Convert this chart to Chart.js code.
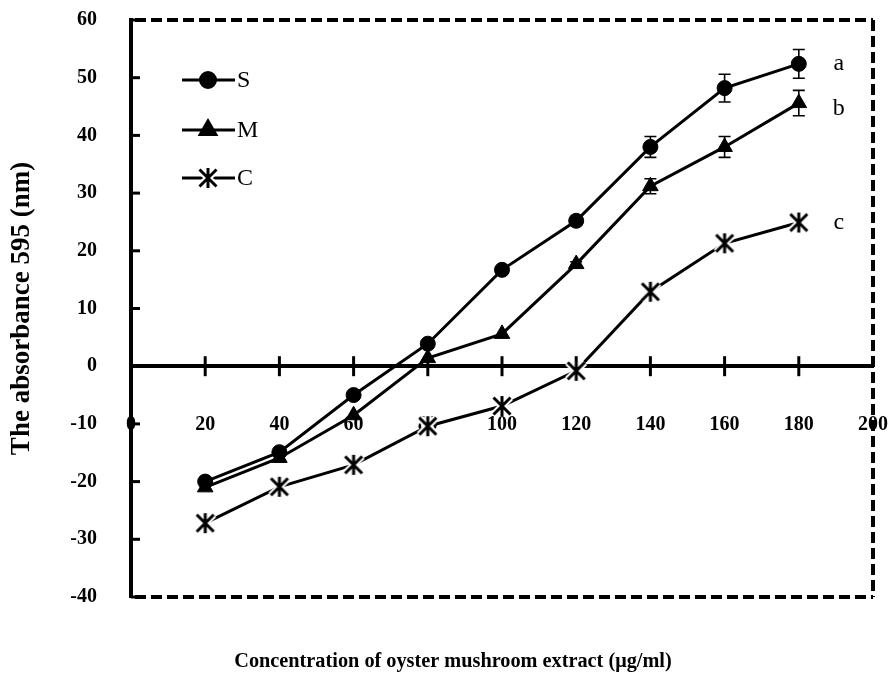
<!DOCTYPE html>
<html>
<head>
<meta charset="utf-8">
<script src="https://cdn.jsdelivr.net/npm/chart.js@4.4.1/dist/chart.umd.min.js"></script>
<style>
  html, body { margin: 0; padding: 0; background: #fff; }
  #c { display: block; }
</style>
</head>
<body>
<canvas id="c" width="888" height="675"></canvas>
<script>
// Absorbance at 595 nm against extract concentration for three groups
const concentrations = [20, 40, 60, 80, 100, 120, 140, 160, 180];
const seriesS = [-20.0, -14.9, -5.0, 3.9, 16.7, 25.2, 38.0, 48.2, 52.4];
const seriesM = [-21.0, -15.9, -8.5, 1.4, 5.6, 17.7, 31.2, 38.0, 45.6];
const seriesC = [-27.2, -20.9, -17.1, -10.4, -6.9, -0.8, 12.9, 21.3, 24.9];
const errorS = [0, 0, 0, 0, 0, 0.8, 1.8, 2.4, 2.5];
const errorM = [0, 0, 0, 0, 0, 0.4, 1.3, 1.8, 2.2];
const seriesNames = ['S', 'M', 'C'];
const groupLetters = ['a', 'b', 'c'];
const xTickValues = [0, 20, 40, 60, 80, 100, 120, 140, 160, 180, 200];
const yTickValues = [-40, -30, -20, -10, 0, 10, 20, 30, 40, 50, 60];
const xTitle = 'Concentration of oyster mushroom extract (μg/ml)';
const yTitle = 'The absorbance 595 (nm)';

const SERIF = '"Liberation Serif", "Times New Roman", Times, serif';

// Six-armed asterisk marker (an X with a vertical stroke), white halo underneath
function makeAsterisk() {
  const size = 28;
  const cv = document.createElement('canvas');
  cv.width = size; cv.height = size;
  const g = cv.getContext('2d');
  const h = size / 2, d = 8.5, v = 10;
  const path = () => {
    g.beginPath();
    g.moveTo(h - d, h - d); g.lineTo(h + d, h + d);
    g.moveTo(h + d, h - d); g.lineTo(h - d, h + d);
    g.moveTo(h, h - v); g.lineTo(h, h + v);
  };
  g.lineCap = 'butt';
  path(); g.strokeStyle = '#fff'; g.lineWidth = 7; g.stroke();
  path(); g.strokeStyle = '#000'; g.lineWidth = 3; g.stroke();
  return cv;
}
const asterisk = makeAsterisk();

const toPoints = ys => concentrations.map((x, i) => ({ x, y: ys[i] }));

const markerStyles = ['circle', 'triangle', asterisk];
const markerRadius = [7.5, 9, 10];
const seriesValues = [seriesS, seriesM, seriesC];
const seriesErrors = [errorS, errorM, null];

function drawMarker(ctx, i, x, y) {
  ctx.fillStyle = '#000';
  ctx.strokeStyle = '#000';
  Chart.helpers.drawPoint(ctx, { pointStyle: markerStyles[i], radius: markerRadius[i], borderWidth: 1, rotation: 0 }, x, y);
}

const plotDecor = {
  id: 'plotDecor',
  beforeDatasetsDraw(chart) {
    const { ctx, chartArea: a } = chart;
    const xs = chart.scales.x, ys = chart.scales.y;
    ctx.save();
    ctx.strokeStyle = '#000';
    ctx.lineCap = 'butt';
    // tick marks crossing the zero line
    const y0 = ys.getPixelForValue(0);
    ctx.lineWidth = 3;
    xs.ticks.forEach(t => {
      if (t.value === xs.min || t.value === xs.max) return;
      const px = xs.getPixelForValue(t.value);
      ctx.beginPath(); ctx.moveTo(px, y0 - 10); ctx.lineTo(px, y0 + 10); ctx.stroke();
    });
    // inward tick marks on the value axis
    ys.ticks.forEach(t => {
      const py = ys.getPixelForValue(t.value);
      ctx.beginPath(); ctx.moveTo(a.left, py); ctx.lineTo(a.left + 9, py); ctx.stroke();
    });
    // error bars
    ctx.lineWidth = 1.6;
    seriesErrors.forEach((errs, di) => {
      if (!errs) return;
      errs.forEach((e, i) => {
        if (!e) return;
        const v = seriesValues[di][i];
        const px = xs.getPixelForValue(concentrations[i]);
        const hi = ys.getPixelForValue(v + e), lo = ys.getPixelForValue(v - e);
        ctx.beginPath();
        ctx.moveTo(px, hi); ctx.lineTo(px, lo);
        ctx.moveTo(px - 6, hi); ctx.lineTo(px + 6, hi);
        ctx.moveTo(px - 6, lo); ctx.lineTo(px + 6, lo);
        ctx.stroke();
      });
    });
    ctx.restore();
  },
  afterDraw(chart) {
    const { ctx, chartArea: a } = chart;
    const xs = chart.scales.x, ys = chart.scales.y;
    ctx.save();
    // dashed frame on top, right and bottom
    ctx.strokeStyle = '#000';
    ctx.lineWidth = 4;
    ctx.setLineDash([11, 5]);
    ctx.beginPath();
    ctx.moveTo(a.left + 4, a.top); ctx.lineTo(a.right, a.top);
    ctx.moveTo(a.right, a.top); ctx.lineTo(a.right, a.bottom);
    ctx.moveTo(a.left + 4, a.bottom); ctx.lineTo(a.right, a.bottom);
    ctx.stroke();
    ctx.setLineDash([]);

    // horizontal axis title
    ctx.fillStyle = '#000';
    ctx.font = 'bold 20.3px ' + SERIF;
    ctx.textAlign = 'center';
    ctx.textBaseline = 'middle';
    ctx.fillText(xTitle, 453, 662);

    // legend
    const rows = [80, 130, 178];
    ctx.font = '24px ' + SERIF;
    ctx.textAlign = 'left';
    seriesNames.forEach((name, i) => {
      const ry = rows[i];
      ctx.strokeStyle = '#000';
      ctx.lineWidth = 3;
      ctx.beginPath(); ctx.moveTo(182, ry); ctx.lineTo(235, ry); ctx.stroke();
      drawMarker(ctx, i, 208, ry);
      ctx.fillStyle = '#000';
      ctx.fillText(name, 237, ry + 1);
    });

    // group letters beside the last point of each series
    // (the middle letter sits a little below its point)
    const nudge = [0, 6, 0];
    ctx.textAlign = 'center';
    groupLetters.forEach((letter, i) => {
      const vals = seriesValues[i];
      const n = vals.length - 1;
      const px = xs.getPixelForValue(concentrations[n]) + 40;
      const py = ys.getPixelForValue(vals[n]) + nudge[i];
      ctx.fillText(letter, px, py);
    });
    ctx.restore();
  }
};

const tickFont = { family: SERIF, size: 20, weight: 'bold' };

new Chart(document.getElementById('c'), {
  type: 'line',
  data: {
    datasets: seriesNames.map((name, i) => ({
      label: name,
      data: toPoints(seriesValues[i]),
      borderColor: '#000',
      borderWidth: 3,
      backgroundColor: '#000',
      pointStyle: markerStyles[i],
      pointRadius: markerRadius[i],
      pointBackgroundColor: '#000',
      pointBorderColor: '#000',
      pointBorderWidth: 1,
      tension: 0,
      fill: false
    }))
  },
  options: {
    responsive: false,
    animation: false,
    devicePixelRatio: 1,
    layout: { padding: { top: 20, right: 15, left: 0, bottom: 78 } },
    plugins: {
      legend: { display: false },
      tooltip: { enabled: false }
    },
    scales: {
      x: {
        type: 'linear',
        position: { y: 0 },
        min: 0, max: 200,
        afterBuildTicks: s => { s.ticks = xTickValues.map(v => ({ value: v })); },
        grid: { display: false, drawTicks: true, tickLength: 47 },
        border: { display: true, color: '#000', width: 4 },
        ticks: { color: '#000', font: tickFont, padding: 0, autoSkip: false, maxRotation: 0 }
      },
      y: {
        type: 'linear',
        position: 'left',
        min: -40, max: 60,
        afterBuildTicks: s => { s.ticks = yTickValues.map(v => ({ value: v })); },
        afterFit: s => { s.width = 131; },
        grid: { display: false, drawTicks: true, tickLength: 34 },
        border: { display: true, color: '#000', width: 4 },
        ticks: { color: '#000', font: tickFont, padding: 0 },
        title: {
          display: true,
          text: yTitle,
          color: '#000',
          font: { family: SERIF, size: 27, weight: 'bold' },
          padding: { top: 6, bottom: 0 }
        }
      }
    }
  },
  plugins: [plotDecor]
});
</script>
</body>
</html>
